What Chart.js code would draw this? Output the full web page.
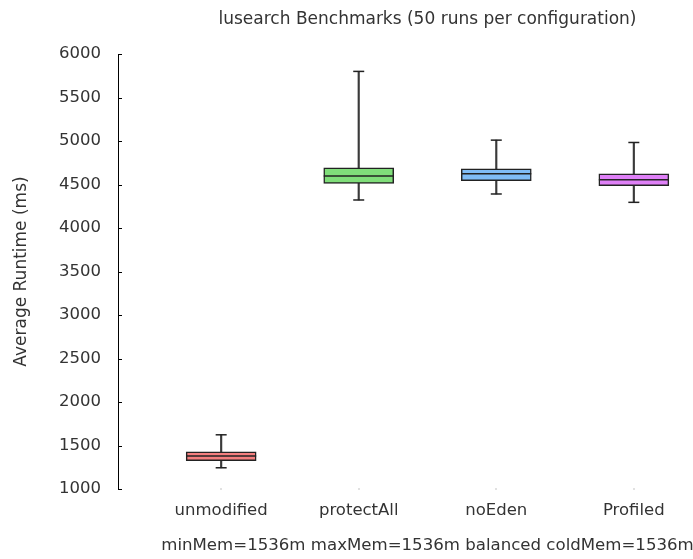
<!DOCTYPE html>
<html>
<head>
<meta charset="utf-8">
<script src="https://cdn.jsdelivr.net/npm/chart.js@4"></script>
<style>
  html, body { margin: 0; padding: 0; background: #fff; overflow: hidden; }
</style>
</head>
<body>
<canvas id="bench" width="855" height="559"></canvas>
<script>
// lusearch runtimes, 50 runs per configuration (ms)
var configs = ['unmodified', 'protectAll', 'noEden', 'Profiled'];
var whiskerLow = [1244, 4322, 4391, 4295];
var q1 = [1325, 4513, 4544, 4486];
var median = [1378, 4597, 4624, 4555];
var q3 = [1428, 4693, 4681, 4624];
var whiskerHigh = [1623, 5800, 5010, 4983];
var yTicks = [1000, 1500, 2000, 2500, 3000, 3500, 4000, 4500, 5000, 5500, 6000];

var boxColors = ['#f47f7f', '#80de7a', '#80bdf7', '#df80f7'];
var ink = '#333';

Chart.defaults.font.family = 'DejaVu Sans';
Chart.defaults.font.size = 16.5;
Chart.defaults.color = ink;

function pos(i) { return i + 1; }

var whiskers = configs.map(function (c, i) { return { x: pos(i), y: [whiskerLow[i], whiskerHigh[i]] }; });
var boxes = configs.map(function (c, i) { return { x: pos(i), y: [q1[i], q3[i]] }; });
var medians = configs.map(function (c, i) { return { x: pos(i), y: median[i] }; });
var caps = configs.map(function (c, i) { return { x: pos(i), y: whiskerLow[i] }; })
  .concat(configs.map(function (c, i) { return { x: pos(i), y: whiskerHigh[i] }; }));

// short tick marks pointing into the plot, plus a tiny dot under each box
var axisMarks = {
  id: 'axisMarks',
  afterDraw: function (chart) {
    var c = chart.ctx, y = chart.scales.y, x = chart.scales.x;
    c.save();
    c.strokeStyle = '#000';
    c.lineWidth = 1;
    c.beginPath();
    y.ticks.forEach(function (t) {
      var py = Math.round(y.getPixelForValue(t.value)) + 0.5;
      c.moveTo(y.right, py);
      c.lineTo(y.right + 4, py);
    });
    c.stroke();
    c.fillStyle = '#888';
    x.ticks.forEach(function (t) {
      c.fillRect(Math.round(x.getPixelForValue(t.value)) - 0.5, y.bottom - 0.5, 1, 1);
    });
    c.restore();
  }
};

var ctx = document.getElementById('bench').getContext('2d');
window.benchChart = new Chart(ctx, {
  type: 'bar',
  data: {
    datasets: [{
      // whisker stems
      data: whiskers,
      backgroundColor: '#3a3a3a',
      barThickness: 1.5,
      grouped: false,
      order: 3
    }, {
      // interquartile boxes
      data: boxes,
      backgroundColor: boxColors,
      borderColor: '#222',
      borderWidth: 1.5,
      borderSkipped: false,
      barThickness: 70,
      grouped: false,
      order: 2
    }, {
      type: 'scatter',
      data: medians,
      pointStyle: 'line',
      radius: 35,
      borderColor: '#222',
      borderWidth: 1.5,
      order: 1
    }, {
      type: 'scatter',
      data: caps,
      pointStyle: 'line',
      radius: 5.5,
      borderColor: '#222',
      borderWidth: 1.5,
      order: 1
    }]
  },
  plugins: [axisMarks],
  options: {
    responsive: false,
    animation: false,
    events: [],
    layout: { padding: 0 },
    plugins: {
      legend: { display: false },
      tooltip: { enabled: false },
      title: {
        display: true,
        text: 'lusearch Benchmarks (50 runs per configuration)',
        color: ink,
        font: { size: 17, weight: 'normal' },
        padding: { top: 9.4, bottom: 24.2 }
      }
    },
    scales: {
      x: {
        type: 'linear',
        offset: false,
        min: 0.25,
        max: 4.75,
        afterBuildTicks: function (s) {
          s.ticks = configs.map(function (c, i) { return { value: pos(i) }; });
        },
        afterFit: function (s) { s.height = 70; },
        ticks: {
          padding: 12,
          color: ink,
          callback: function (v) { return configs[v - 1]; }
        },
        grid: { display: false, drawTicks: false, offset: false },
        border: { display: false },
        title: {
          display: true,
          text: 'minMem=1536m maxMem=1536m balanced coldMem=1536m',
          color: ink,
          font: { size: 16.6 },
          padding: { top: 0, bottom: 3.5 }
        }
      },
      y: {
        min: 1000,
        max: 6000,
        afterBuildTicks: function (s) {
          s.ticks = yTicks.map(function (v) { return { value: v }; });
        },
        afterFit: function (s) { s.width = 118; },
        ticks: { padding: 17, color: ink, callback: function (v) { return String(v); } },
        grid: { display: false, drawTicks: false },
        border: { display: true, color: '#000', width: 1 },
        title: {
          display: true,
          text: 'Average Runtime (ms)',
          color: ink,
          font: { size: 17 },
          padding: { top: 11, bottom: 0 }
        }
      },
      // empty right-hand axis that mirrors the left margin
      yRight: {
        position: 'right',
        min: 1000,
        max: 6000,
        afterFit: function (s) { s.width = 118; },
        ticks: { display: false },
        grid: { display: false, drawTicks: false },
        border: { display: false }
      }
    }
  }
});
</script>
</body>
</html>
